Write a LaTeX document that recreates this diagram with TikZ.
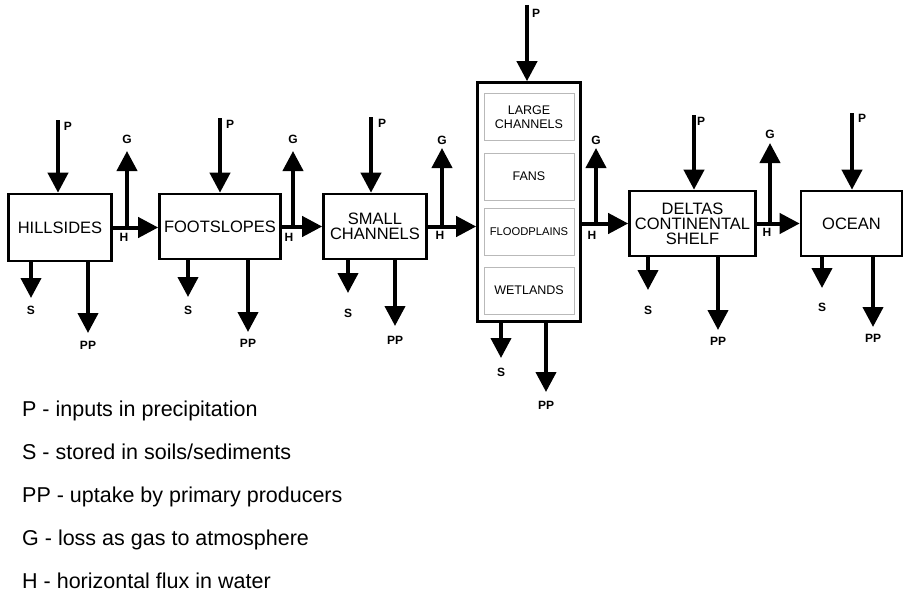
\documentclass[tikz,border=0pt]{standalone}
\usepackage{fontspec}
\setmainfont{Liberation Sans}
\usetikzlibrary{arrows.meta}
\begin{document}
\begin{tikzpicture}[x=1pt,y=-1pt,
 box/.style={draw, line width=2.6pt, inner sep=0pt, align=center, font=\fontsize{16.5}{15}\selectfont},
 sub/.style={draw=gray!55, line width=0.8pt, minimum width=90pt, minimum height=47pt, inner sep=0pt, align=center, font=\fontsize{12.5}{14}\selectfont},
 flow/.style={line width=4pt, -{Triangle[length=20pt,width=20pt]}},
 lab/.style={font=\bfseries\fontsize{12}{12}\selectfont, inner sep=0pt},
 leg/.style={anchor=base west, inner sep=0pt, font=\fontsize{21.5}{21.5}\selectfont}]
\useasboundingbox (0,0) rectangle (905,594);

% boxes
\node[box, minimum width=103pt, minimum height=67pt] (hill) at (60,227.5) {HILLSIDES};
\node[box, minimum width=121pt, minimum height=65pt] (foot) at (220,226.5) {FOOTSLOPES};
\node[box, minimum width=103pt, minimum height=65pt] (small) at (375,226.5) {SMALL\\CHANNELS};
\node[box, minimum width=103pt, minimum height=239pt] (big) at (529,202) {};
\node[box, minimum width=126pt, minimum height=65pt] (deltas) at (692.5,223.5) {DELTAS\\CONTINENTAL\\SHELF};
\node[box, minimum width=101pt, minimum height=65pt] (ocean) at (851.5,223.5) {OCEAN};

% sub-boxes
\node[sub] (large) at (529,117) {LARGE\\CHANNELS};
\node[sub] (fans) at (529,176.5) {FANS};
\node[sub, font=\fontsize{11.2}{12}\selectfont] (flood) at (529,232) {FLOODPLAINS};
\node[sub] (wet) at (529,290.5) {WETLANDS};

% horizontal fluxes
\draw[flow] (hill.east) -- (hill.east -| foot.west);
\draw[flow] (foot.east) -- (foot.east -| small.west);
\draw[flow] (small.east) -- (small.east -| big.west);
\draw[flow] (big.east |- deltas.west) -- (deltas.west);
\draw[flow] (deltas.east) -- (deltas.east -| ocean.west);

% precipitation inputs
\coordinate (p1) at (58,120);  \draw[flow] (p1) -- (p1 |- hill.north);
\coordinate (p2) at (220,118); \draw[flow] (p2) -- (p2 |- foot.north);
\coordinate (p3) at (371,117); \draw[flow] (p3) -- (p3 |- small.north);
\coordinate (p4) at (527,5);   \draw[flow] (p4) -- (p4 |- big.north);
\coordinate (p5) at (694,115); \draw[flow] (p5) -- (p5 |- deltas.north);
\coordinate (p6) at (852,113); \draw[flow] (p6) -- (p6 |- ocean.north);
\node[lab] (lp1) at (68,126) {P};
\node[lab] (lp2) at (230,124) {P};
\node[lab] (lp3) at (382,123) {P};
\node[lab] (lp4) at (536,13) {P};
\node[lab] (lp5) at (701,121) {P};
\node[lab] (lp6) at (862,118) {P};

% gas losses
\coordinate (g1) at (127,151); \draw[flow] (g1 |- hill.east) -- (g1);
\coordinate (g2) at (293,151); \draw[flow] (g2 |- foot.east) -- (g2);
\coordinate (g3) at (442,148); \draw[flow] (g3 |- small.east) -- (g3);
\coordinate (g4) at (596,148); \draw[flow] (g4 |- deltas.west) -- (g4);
\coordinate (g5) at (770,143); \draw[flow] (g5 |- deltas.east) -- (g5);
\node[lab] (lg1) at (127,139) {G};
\node[lab] (lg2) at (293,139) {G};
\node[lab] (lg3) at (442,140) {G};
\node[lab] (lg4) at (596,140) {G};
\node[lab] (lg5) at (770,134) {G};

% H labels
\node[lab] (lh1) at (124,237) {H};
\node[lab] (lh2) at (289,237) {H};
\node[lab] (lh3) at (440,235) {H};
\node[lab] (lh4) at (592,235) {H};
\node[lab] (lh5) at (767,232) {H};

% storage
\coordinate (s1) at (31,298);  \draw[flow] (s1 |- hill.south) -- (s1);
\coordinate (s2) at (188,297); \draw[flow] (s2 |- foot.south) -- (s2);
\coordinate (s3) at (348,293); \draw[flow] (s3 |- small.south) -- (s3);
\coordinate (s4) at (501,358); \draw[flow] (s4 |- big.south) -- (s4);
\coordinate (s5) at (648,290); \draw[flow] (s5 |- deltas.south) -- (s5);
\coordinate (s6) at (822,288); \draw[flow] (s6 |- ocean.south) -- (s6);
\node[lab] (ls1) at (31,310) {S};
\node[lab] (ls2) at (188,310) {S};
\node[lab] (ls3) at (348,313) {S};
\node[lab] (ls4) at (501,372) {S};
\node[lab] (ls5) at (648,310) {S};
\node[lab] (ls6) at (822,307) {S};

% primary producers
\coordinate (pp1) at (88,333);  \draw[flow] (pp1 |- hill.south) -- (pp1);
\coordinate (pp2) at (248,332); \draw[flow] (pp2 |- foot.south) -- (pp2);
\coordinate (pp3) at (395,326); \draw[flow] (pp3 |- small.south) -- (pp3);
\coordinate (pp4) at (546,392); \draw[flow] (pp4 |- big.south) -- (pp4);
\coordinate (pp5) at (718,330); \draw[flow] (pp5 |- deltas.south) -- (pp5);
\coordinate (pp6) at (873,327); \draw[flow] (pp6 |- ocean.south) -- (pp6);
\node[lab] (lpp1) at (88,345) {PP};
\node[lab] (lpp2) at (248,343) {PP};
\node[lab] (lpp3) at (395,340) {PP};
\node[lab] (lpp4) at (546,405) {PP};
\node[lab] (lpp5) at (718,341) {PP};
\node[lab] (lpp6) at (873,338) {PP};

% legend
\node[leg] (k1) at (22,416) {P - inputs in precipitation};
\node[leg] (k2) at (22,459) {S - stored in soils/sediments};
\node[leg] (k3) at (22,502) {PP - uptake by primary producers};
\node[leg] (k4) at (22,545) {G - loss as gas to atmosphere};
\node[leg] (k5) at (22,588) {H - horizontal flux in water};
\end{tikzpicture}
\end{document}
